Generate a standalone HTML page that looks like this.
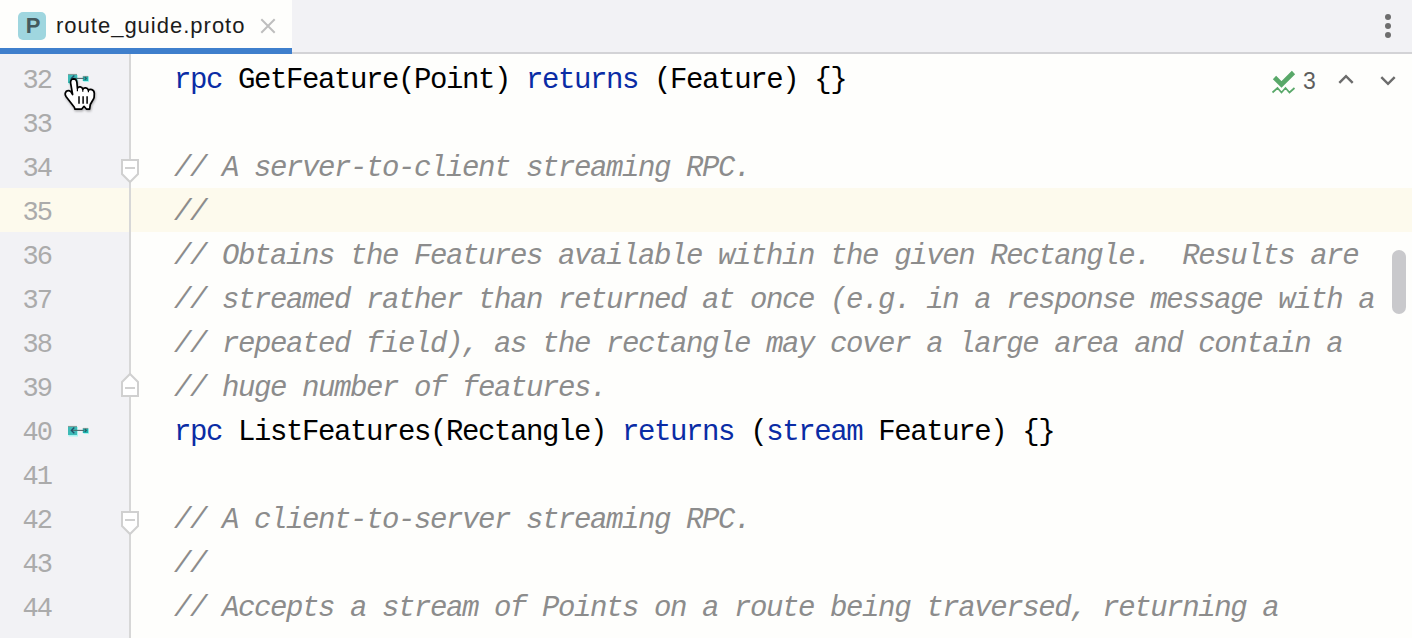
<!DOCTYPE html>
<html><head><meta charset="utf-8">
<style>
*{margin:0;padding:0;box-sizing:border-box}
html,body{width:1412px;height:638px;overflow:hidden;background:#FEFEFC;position:relative}
#tabbar{position:absolute;left:0;top:0;width:1412px;height:54px;background:#F2F2F5}
#tabbar .bb{position:absolute;left:0;top:52px;width:1412px;height:2px;background:#D3D3D6}
#tab{position:absolute;left:0;top:0;width:292px;height:54px;background:#FEFEFC}
#tab .ul{position:absolute;left:0;top:48px;width:292px;height:6px;background:#3F7FCC}
#ficon{position:absolute;left:18px;top:12px;width:28px;height:28px;border-radius:5px;background:#9FD6DF}
#ficon span{position:absolute;left:1px;top:-0.5px;width:28px;height:28px;font:bold 22px/28px "Liberation Sans",sans-serif;color:#44595D;text-align:center}
#tabtxt{position:absolute;left:56px;top:10px;font:22px/32px "Liberation Sans",sans-serif;letter-spacing:1px;color:#1C1C1C;white-space:nowrap}
#gutter{position:absolute;left:0;top:54px;width:129px;height:584px;background:#F2F2F5}
#caretrow{position:absolute;left:0;top:188px;width:1412px;height:44px;background:#FDFAED}
#sep{position:absolute;left:129px;top:54px;width:2px;height:584px;background:#D7D7D7}
.ln{position:absolute;left:0;width:51px;margin-top:3px;text-align:right;font:27px/44px "Liberation Mono",monospace;letter-spacing:-1.9px;color:#ABABAB;white-space:pre}
.code{position:absolute;left:174px;margin-top:3px;font:29px/44px "Liberation Mono",monospace;letter-spacing:-1.4px;color:#000;white-space:pre}
.k{color:#0A2CA5}
.c{color:#8C8C8C;font-style:italic}
.abs{position:absolute}
</style></head><body>
<div id="tabbar"><div class="bb"></div></div>
<div id="tab"><div class="ul"></div>
  <div id="ficon"><span>P</span></div>
  <div id="tabtxt">route_guide.proto</div>
  <svg class="abs" style="left:258px;top:16px" width="20" height="20" viewBox="258 16 20 20"><path d="M261.3 19.3L274.7 32.7M274.7 19.3L261.3 32.7" stroke="#BEBEBE" stroke-width="2"/></svg>
</div>
<svg class="abs" style="left:1380px;top:10px" width="16" height="32" viewBox="0 0 16 32"><circle cx="8" cy="7" r="3" fill="#6E6E6E"/><circle cx="8" cy="16" r="3" fill="#6E6E6E"/><circle cx="8" cy="25" r="3" fill="#6E6E6E"/></svg>
<div id="gutter"></div>
<div id="caretrow"></div>
<div id="sep"></div>

<div class="ln" style="top:56px">32</div>
<div class="ln" style="top:100px">33</div>
<div class="ln" style="top:144px">34</div>
<div class="ln" style="top:188px">35</div>
<div class="ln" style="top:232px">36</div>
<div class="ln" style="top:276px">37</div>
<div class="ln" style="top:320px">38</div>
<div class="ln" style="top:364px">39</div>
<div class="ln" style="top:408px">40</div>
<div class="ln" style="top:452px">41</div>
<div class="ln" style="top:496px">42</div>
<div class="ln" style="top:540px">43</div>
<div class="ln" style="top:584px">44</div>

<div class="code" style="top:56px"><span class="k">rpc</span> GetFeature(Point) <span class="k">returns</span> (Feature) {}</div>
<div class="code c" style="top:144px">// A server-to-client streaming RPC.</div>
<div class="code c" style="top:188px">//</div>
<div class="code c" style="top:232px">// Obtains the Features available within the given Rectangle.  Results are</div>
<div class="code c" style="top:276px">// streamed rather than returned at once (e.g. in a response message with a</div>
<div class="code c" style="top:320px">// repeated field), as the rectangle may cover a large area and contain a</div>
<div class="code c" style="top:364px">// huge number of features.</div>
<div class="code" style="top:408px"><span class="k">rpc</span> ListFeatures(Rectangle) <span class="k">returns</span> (<span class="k">stream</span> Feature) {}</div>
<div class="code c" style="top:496px">// A client-to-server streaming RPC.</div>
<div class="code c" style="top:540px">//</div>
<div class="code c" style="top:584px">// Accepts a stream of Points on a route being traversed, returning a</div>

<!-- fold markers -->
<svg class="abs" style="left:120px;top:158px" width="20" height="27" viewBox="0 0 20 27"><path d="M2 2H18V16L10 24L2 16Z" fill="#FFFFFF" stroke="#D0D0D0" stroke-width="2"/><path d="M5 10H15" stroke="#D0D0D0" stroke-width="2"/></svg>
<svg class="abs" style="left:120px;top:372px" width="20" height="26" viewBox="0 0 20 26"><path d="M2 24H18V10L10 2L2 10Z" fill="#FFFFFF" stroke="#D0D0D0" stroke-width="2"/><path d="M5 16H15" stroke="#D0D0D0" stroke-width="2"/></svg>
<svg class="abs" style="left:120px;top:510px" width="20" height="27" viewBox="0 0 20 27"><path d="M2 2H18V16L10 24L2 16Z" fill="#FFFFFF" stroke="#D0D0D0" stroke-width="2"/><path d="M5 10H15" stroke="#D0D0D0" stroke-width="2"/></svg>


<!-- gutter implement icons -->
<svg class="abs" style="left:64px;top:422px" width="30" height="18" viewBox="64 422 30 18">
<rect x="68.5" y="427" width="9.5" height="9.5" fill="#A8F4F0"/>
<rect x="83.5" y="428.5" width="5.5" height="5.5" fill="#A8F4F0"/>
<rect x="68" y="426" width="9" height="9" fill="#3DBAB6"/>
<path d="M68 426.4H77" stroke="#9A9490" stroke-width="0.8"/>
<rect x="82.8" y="428" width="5.4" height="5" fill="#1FAFAC"/>
<path d="M83 428.4H88" stroke="#9A9490" stroke-width="0.8"/>
<path d="M72 430.4H84" stroke="#4E6A6C" stroke-width="1.1"/>
<path d="M74.3 427.6L71.4 430.4L74.3 433.2" fill="none" stroke="#22506A" stroke-width="1.4"/>
<path d="M84.8 429L86.3 430.4L84.8 431.8" fill="none" stroke="#2A5A60" stroke-width="1.1"/>
</svg>
<svg class="abs" style="left:64px;top:70px" width="30" height="18" viewBox="64 70 30 18">
<rect x="68.5" y="75" width="9.5" height="9.5" fill="#A8F4F0"/>
<rect x="83.5" y="76.5" width="5.5" height="5.5" fill="#A8F4F0"/>
<rect x="68" y="74" width="9" height="9" fill="#3DBAB6"/>
<path d="M68 74.4H77" stroke="#9A9490" stroke-width="0.8"/>
<rect x="82.8" y="76" width="5.4" height="5" fill="#1FAFAC"/>
<path d="M83 76.4H88" stroke="#9A9490" stroke-width="0.8"/>
<path d="M72 78.4H84" stroke="#4E6A6C" stroke-width="1.1"/>
<path d="M74.3 75.6L71.4 78.4L74.3 81.2" fill="none" stroke="#22506A" stroke-width="1.4"/>
<path d="M84.8 77L86.3 78.4L84.8 79.8" fill="none" stroke="#2A5A60" stroke-width="1.1"/>
</svg>
<!-- hand cursor -->
<svg class="abs" style="left:58px;top:70px" width="42" height="46" viewBox="58 70 42 46">
<path transform="translate(0.6,1.3)" d="M72.6 94.5L70.6 83Q70.4 78.9 73.5 78.8Q76.6 78.9 76.9 82.5L77.4 88.3Q78.3 86.6 80.3 86.9Q82.3 87.2 82.8 89.2Q83.8 87.5 85.8 87.9Q87.9 88.3 88.4 90.2Q89.8 89.1 91.8 89.6Q94.3 90.4 94.3 93.5L94.1 97.5Q93.7 99 92.3 101L90.3 104.5L89.6 109.2L86.6 109.2L84 106.3L81.6 109.2L75 109.2L74.3 107.3L66 96.5Q64.2 93.8 66.3 91.3Q68.6 89.6 70.8 91.6Z" fill="rgba(0,0,0,0.22)" stroke="rgba(0,0,0,0.22)" stroke-width="2.2" style="filter:blur(0.8px)"/>
<path d="M72.6 94.5L70.6 83Q70.4 78.9 73.5 78.8Q76.6 78.9 76.9 82.5L77.4 88.3Q78.3 86.6 80.3 86.9Q82.3 87.2 82.8 89.2Q83.8 87.5 85.8 87.9Q87.9 88.3 88.4 90.2Q89.8 89.1 91.8 89.6Q94.3 90.4 94.3 93.5L94.1 97.5Q93.7 99 92.3 101L90.3 104.5L89.6 109.2L86.6 109.2L84 106.3L81.6 109.2L75 109.2L74.3 107.3L66 96.5Q64.2 93.8 66.3 91.3Q68.6 89.6 70.8 91.6Z" fill="#FFFFFF" stroke="#000000" stroke-width="1.7" stroke-linejoin="round"/>
<path d="M77.4 88.3V91.3M82.8 89.2V91.8M88.4 90.2V92.3" stroke="#000" stroke-width="1.2"/>
<path d="M79 96.2V103.7M83.1 96.2V103.7M87.1 96.2V103.7" stroke="#000" stroke-width="1.5"/>
</svg>
<!-- inspection widget -->
<svg class="abs" style="left:1266px;top:64px" width="36" height="34" viewBox="1266 64 36 34"><path d="M1274.5 77.5L1281.5 84.5L1293.5 72.5" fill="none" stroke="#59A869" stroke-width="4.6"/><path d="M1272.5 92.5L1277.5 88L1281.5 92.5L1285.5 88L1289.5 92.5L1294.5 88" fill="none" stroke="#59A869" stroke-width="1.7"/></svg>
<div class="abs" style="left:1303px;top:65px;font:23px/32px 'Liberation Sans',sans-serif;color:#5E5E5E">3</div>
<svg class="abs" style="left:1334px;top:68px" width="66" height="22" viewBox="1334 68 66 22"><path d="M1339.3 82.8L1346 76.1L1352.7 82.8" fill="none" stroke="#6C6C6C" stroke-width="2.4"/><path d="M1381.3 77.2L1388 83.9L1394.7 77.2" fill="none" stroke="#6C6C6C" stroke-width="2.4"/></svg>

<!-- scrollbar -->
<div class="abs" style="left:1392px;top:250px;width:14px;height:64px;border-radius:7px;background:#C9C9CC"></div>

</body></html>
